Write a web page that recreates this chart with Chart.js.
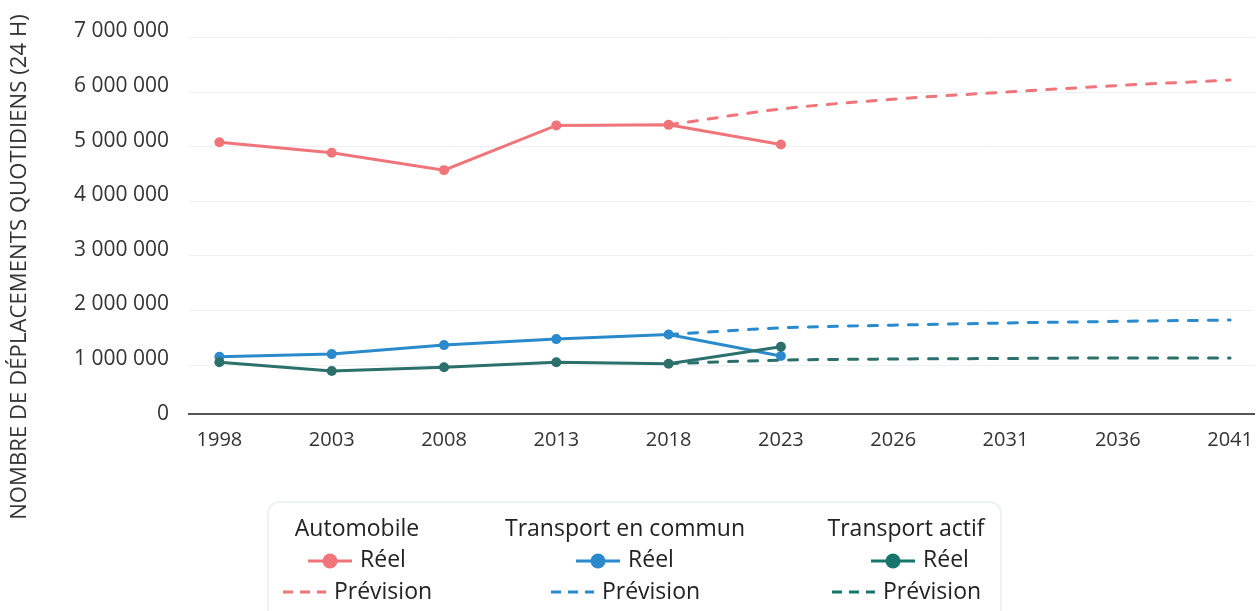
<!DOCTYPE html>
<html lang="fr">
<head>
<meta charset="utf-8">
<title>Nombre de déplacements quotidiens</title>
<script src="https://cdn.jsdelivr.net/npm/chart.js@4.4.1/dist/chart.umd.min.js"></script>
<style>
    html, body { margin: 0; padding: 0; background: #fff; }
    body {
        position: relative;
        width: 1259px;
        height: 611px;
        overflow: hidden;
        font-family: "Open Sans", sans-serif;
        color: #222;
    }
    #chart { position: absolute; left: 0; top: 0; }
    #y-title {
        position: absolute;
        left: -263px;
        top: 254px;
        width: 560px;
        height: 26px;
        line-height: 26px;
        text-align: center;
        font-size: 22px;
        letter-spacing: 0.1px;
        color: #333;
        transform: rotate(-90deg);
        white-space: nowrap;
    }
    #legend-box {
        position: absolute;
        left: 267px;
        top: 501px;
        width: 731px;
        height: 140px;
        border: 2px solid #edf2f5;
        border-radius: 12px;
        background: #fff;
    }
    .col {
        position: absolute;
        top: 511.5px;
        width: 300px;
        text-align: center;
        font-size: 23px;
        line-height: 31.5px;
        white-space: nowrap;
    }
    .col svg { vertical-align: middle; margin-right: 8px; }
</style>
</head>
<body>
<canvas id="chart" width="1259" height="611"></canvas>
<div id="y-title">NOMBRE DE DÉPLACEMENTS QUOTIDIENS (24 H)</div>
<div id="legend-box"></div>
<div id="legend"></div>

<script>
// Data
const years = ['1998', '2003', '2008', '2013', '2018', '2023', '2026', '2031', '2036', '2041'];

const autoReel   = [5080000, 4890000, 4570000, 5390000, 5400000, 5040000, null, null, null, null];
const autoPrev   = [null, null, null, null, 5400000, 5690000, 5870000, 6000000, 6120000, 6220000];
const tcReel     = [1150000, 1200000, 1365000, 1475000, 1560000, 1165000, null, null, null, null];
const tcPrev     = [null, null, null, null, 1560000, 1680000, 1730000, 1770000, 1800000, 1825000];
const actifReel  = [1050000, 890000, 960000, 1050000, 1025000, 1335000, null, null, null, null];
const actifPrev  = [null, null, null, null, 1025000, 1090000, 1110000, 1120000, 1130000, 1130000];

const yTicks = [0, 1000000, 2000000, 3000000, 4000000, 5000000, 6000000, 7000000];

const RED = '#f0757a';
const BLUE = '#2b8acc';
const GREEN = '#2c706b';

const groups = [
    { name: 'Automobile', color: RED, center: 357, reelShift: 0 },
    { name: 'Transport en commun', color: BLUE, center: 625, reelShift: 0 },
    { name: 'Transport actif', color: '#16766c', center: 906, reelShift: 28 }
];

// "7 000 000" style labels
function formatNumber(v) {
    return String(v).replace(/\B(?=(\d{3})+(?!\d))/g, ' ');
}

function toPoints(arr) {
    return arr.map((v, i) => ({ x: i, y: v }));
}

function reelDataset(label, arr, color) {
    return {
        label: label,
        data: toPoints(arr),
        borderColor: color,
        backgroundColor: color,
        borderWidth: 3,
        pointRadius: 5,
        pointBorderWidth: 0,
        tension: 0
    };
}

function prevDataset(label, arr, color) {
    return {
        label: label,
        data: toPoints(arr),
        borderColor: color,
        borderWidth: 3,
        borderDash: [9, 11],
        borderCapStyle: 'round',
        pointRadius: 0,
        cubicInterpolationMode: 'monotone'
    };
}

function buildLegend() {
    const el = document.getElementById('legend');
    let html = '';
    groups.forEach(g => {
        const solid = '<svg width="44" height="16"><line x1="0" y1="8" x2="44" y2="8" stroke="' + g.color +
            '" stroke-width="3"/><circle cx="22" cy="8" r="7.5" fill="' + g.color + '"/></svg>';
        const dashed = '<svg width="44" height="16"><line x1="1" y1="8" x2="44" y2="8" stroke="' + g.color +
            '" stroke-width="3" stroke-dasharray="10 7"/></svg>';
        html += '<div class="col" style="left:' + (g.center - 150) + 'px">' +
            '<div>' + g.name + '</div>' +
            '<div style="padding-left:' + g.reelShift + 'px">' + solid + 'Réel</div>' +
            '<div>' + dashed + 'Prévision</div>' +
            '</div>';
    });
    el.innerHTML = html;
}

new Chart(document.getElementById('chart'), {
    type: 'line',
    data: {
        datasets: [
            reelDataset('Transport actif - Réel', actifReel, GREEN),
            reelDataset('Transport en commun - Réel', tcReel, BLUE),
            reelDataset('Automobile - Réel', autoReel, RED),
            prevDataset('Transport actif - Prévision', actifPrev, GREEN),
            prevDataset('Transport en commun - Prévision', tcPrev, BLUE),
            prevDataset('Automobile - Prévision', autoPrev, RED)
        ]
    },
    options: {
        responsive: false,
        animation: false,
        devicePixelRatio: 1,
        layout: { padding: { top: 37.5, right: 2, left: 0, bottom: 0 } },
        plugins: {
            legend: { display: false },
            tooltip: { enabled: false }
        },
        scales: {
            x: {
                type: 'linear',
                min: -0.271,
                max: 9.213,
                afterBuildTicks: s => { s.ticks = years.map((y, i) => ({ value: i })); },
                afterFit: s => {
                    s.height = 197.5;
                    // labels already sit inside the plot width, no extra side room needed
                    s.paddingLeft = 0;
                    s.paddingRight = 0;
                },
                grid: { display: false, drawTicks: false },
                border: { display: true, color: '#555', width: 2 },
                ticks: {
                    callback: v => years[v],
                    color: '#333',
                    font: { family: 'Open Sans', size: 20 },
                    padding: 15,
                    maxRotation: 0,
                    autoSkip: false
                }
            },
            y: {
                min: 112000,
                max: 7000000,
                afterBuildTicks: s => { s.ticks = yTicks.map(v => ({ value: v })); },
                afterFit: s => { s.width = 189; },
                grid: {
                    drawTicks: false,
                    color: c => (c.tick && c.tick.value === 0) ? 'rgba(0,0,0,0)' : '#edf1f4'
                },
                border: { display: false },
                ticks: {
                    callback: v => formatNumber(v),
                    color: '#333',
                    font: { family: 'Open Sans', size: 21 },
                    padding: 20,
                    labelOffset: -6
                }
            }
        }
    }
});

buildLegend();
</script>
</body>
</html>
